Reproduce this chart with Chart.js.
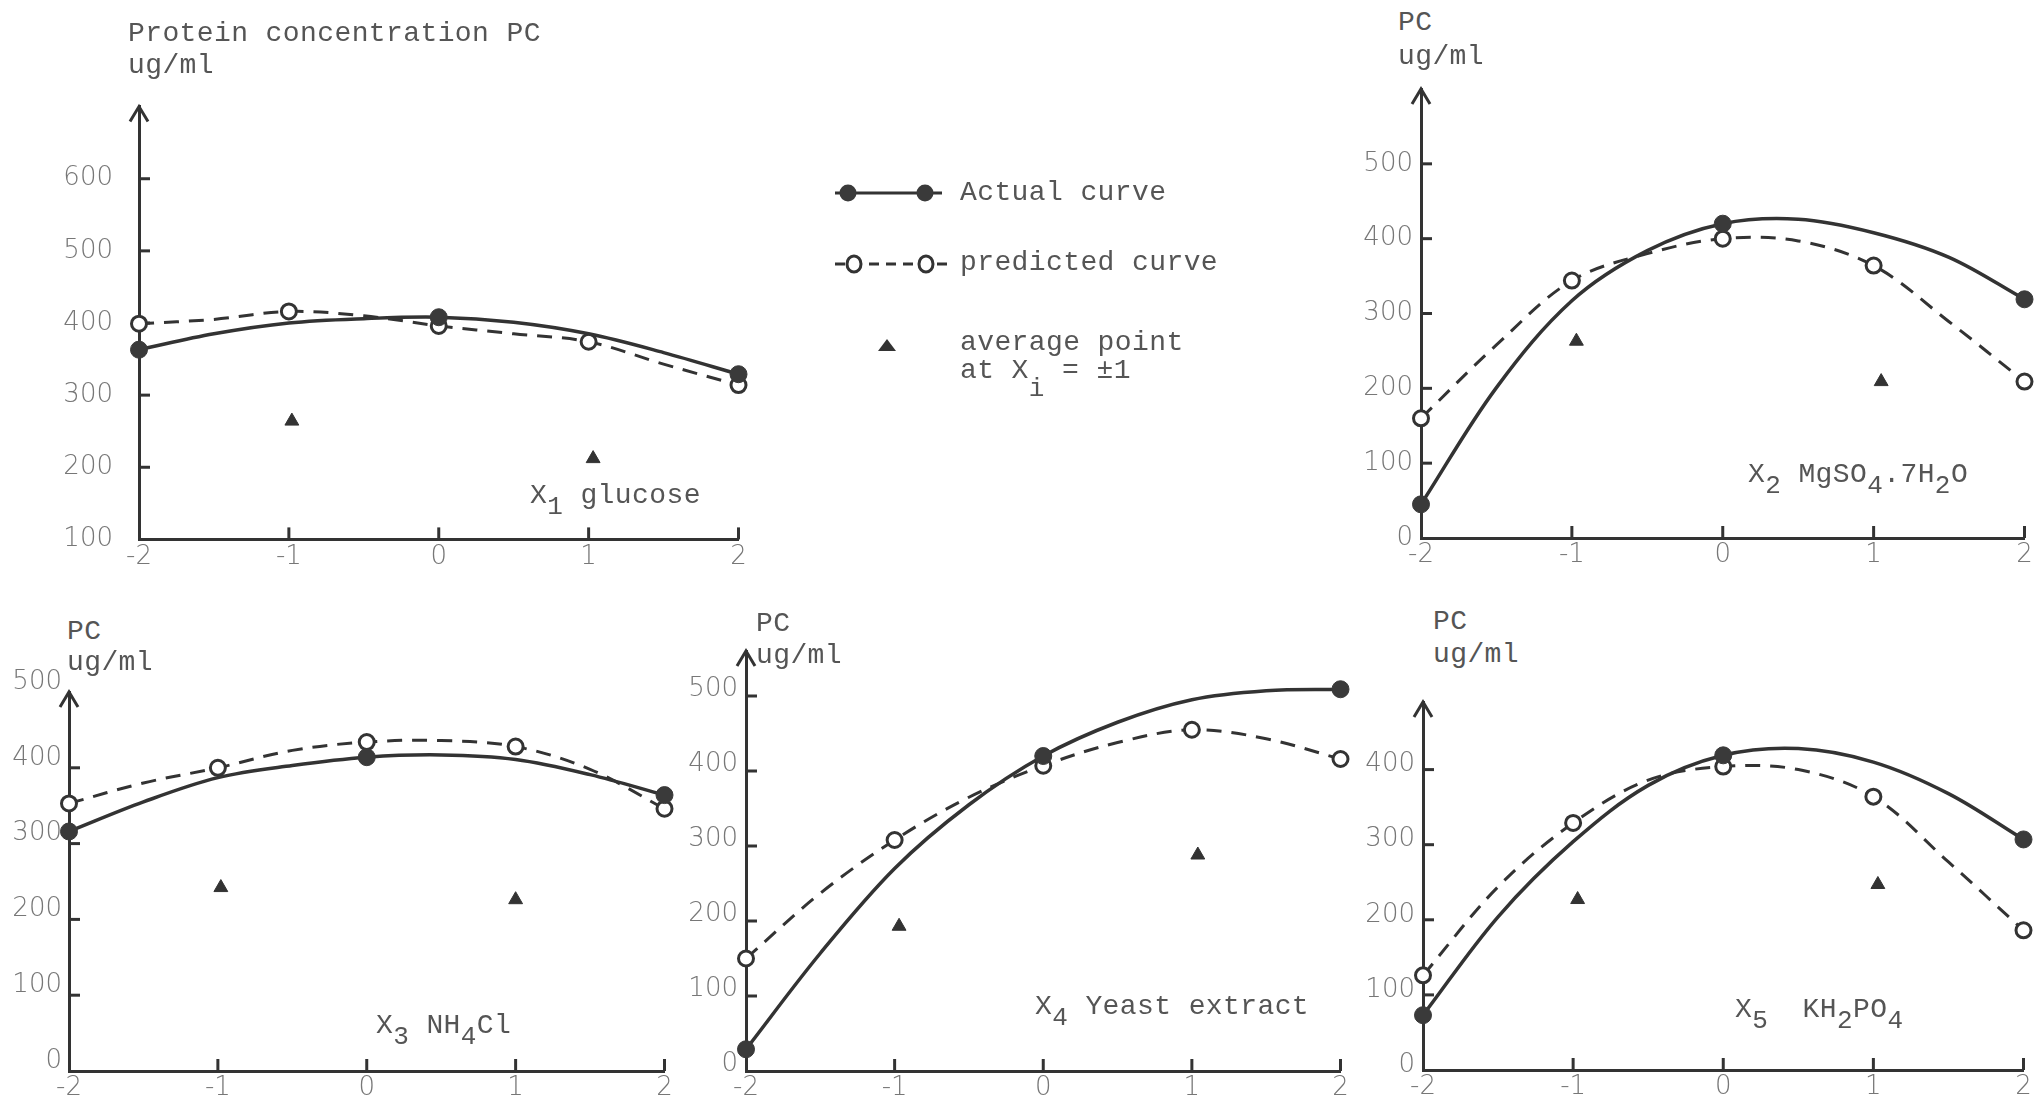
<!DOCTYPE html>
<html>
<head>
<meta charset="utf-8">
<script src="https://cdn.jsdelivr.net/npm/chart.js@4.4.1/dist/chart.umd.min.js"></script>
<style>
html,body{margin:0;padding:0;background:#fff;}
#wrap{position:relative;width:2036px;height:1099px;overflow:hidden;background:#fff;}
#wrap canvas{position:absolute;z-index:2;}
.t{position:absolute;font-family:'Liberation Mono','Courier New',monospace;font-size:28px;line-height:30px;color:#555;letter-spacing:0.4px;white-space:pre;z-index:5;}
.t sub{font-size:26px;vertical-align:-0.42em;line-height:0;}
#leg{position:absolute;left:0;top:0;z-index:4;}
</style>
</head>
<body>
<div id="wrap">
  <svg id="leg" width="1100" height="420" viewBox="0 0 1100 420">
    <line x1="835" y1="193" x2="942" y2="193" stroke="#333" stroke-width="3"/>
    <circle cx="848" cy="193" r="8.5" fill="#3a3a3a"/>
    <circle cx="925" cy="193" r="8.5" fill="#3a3a3a"/>
    <line x1="835" y1="264" x2="952" y2="264" stroke="#333" stroke-width="3" stroke-dasharray="10 7"/>
    <ellipse cx="854" cy="264" rx="7" ry="8" fill="#fff" stroke="#333" stroke-width="3"/>
    <ellipse cx="926" cy="264" rx="7" ry="8" fill="#fff" stroke="#333" stroke-width="3"/>
    <polygon points="878,351 896,351 887,339" fill="#333"/>
  </svg>

  <div class="t" style="left:128px;top:19px;">Protein concentration PC</div>
  <div class="t" style="left:128px;top:51px;">ug/ml</div>
  <div class="t" style="left:530px;top:481px;">X<sub>1</sub> glucose</div>

  <div class="t" style="left:1398px;top:8px;">PC</div>
  <div class="t" style="left:1398px;top:42px;">ug/ml</div>
  <div class="t" style="left:1748px;top:460px;">X<sub>2</sub> MgSO<sub>4</sub>.7H<sub>2</sub>O</div>

  <div class="t" style="left:67px;top:617px;">PC</div>
  <div class="t" style="left:67px;top:648px;">ug/ml</div>
  <div class="t" style="left:376px;top:1011px;">X<sub>3</sub> NH<sub>4</sub>Cl</div>

  <div class="t" style="left:756px;top:609px;">PC</div>
  <div class="t" style="left:756px;top:641px;">ug/ml</div>
  <div class="t" style="left:1035px;top:992px;">X<sub>4</sub> Yeast extract</div>

  <div class="t" style="left:1433px;top:607px;">PC</div>
  <div class="t" style="left:1433px;top:640px;">ug/ml</div>
  <div class="t" style="left:1735px;top:995px;">X<sub>5</sub>  KH<sub>2</sub>PO<sub>4</sub></div>

  <div class="t" style="left:960px;top:178px;">Actual curve</div>
  <div class="t" style="left:960px;top:248px;">predicted curve</div>
  <div class="t" style="left:960px;top:328px;">average point</div>
  <div class="t" style="left:960px;top:356px;">at X<sub style="vertical-align:-0.7em">i</sub> = ±1</div>
</div>

<script>
// ---------- data ----------
// curves are read at every half level; markers sit on the coded levels
const xLevels = [-2, -1.5, -1, -0.5, 0, 0.5, 1, 1.5, 2];
const xTickValues = [-2, -1, 0, 1, 2];
const xTickLabels = ['-2', '-1', '0', '1', '2'];

// X1 glucose
const actualX1    = [363, 385, 400, 406, 408, 401, 385, 359, 329];
const predictedX1 = [399, 405, 416, 410, 396, 385, 374, 343, 314];
const avgPosX1 = [-0.98, 1.03];
const avgValX1 = [264, 212];
const yTicksX1 = [100, 200, 300, 400, 500, 600];

// X2 MgSO4.7H2O
const actualX2    = [45, 201, 317, 384, 420, 426, 408, 375, 319];
const predictedX2 = [160, 258, 344, 380, 400, 397, 364, 289, 209];
const avgPosX2 = [-0.97, 1.05];
const avgValX2 = [263, 209];
const yTicksX2 = [0, 100, 200, 300, 400, 500];

// X3 NH4Cl
const actualX3    = [316, 355, 387, 403, 414, 417, 411, 391, 364];
const predictedX3 = [353, 380, 400, 423, 434, 436, 428, 398, 346];
const avgPosX3 = [-0.98, 1.0];
const avgValX3 = [242, 226];
const yTicksX3 = [0, 100, 200, 300, 400, 500];

// X4 Yeast extract
const actualX4    = [29, 157, 270, 355, 420, 465, 495, 507, 509];
const predictedX4 = [150, 237, 308, 365, 407, 438, 455, 443, 416];
const avgPosX4 = [-0.97, 1.04];
const avgValX4 = [193, 288];
const yTicksX4 = [0, 100, 200, 300, 400, 500];

// X5 KH2PO4
const actualX5    = [73, 204, 304, 379, 419, 428, 410, 368, 307];
const predictedX5 = [126, 244, 329, 386, 404, 400, 364, 277, 186];
const avgPosX5 = [-0.97, 1.03];
const avgValX5 = [227, 247];
const yTicksX5 = [0, 100, 200, 300, 400];

// ---------- layout ----------
const panels = [
  {L:139,  R:739,  T:89,  B:541,  yMin:100, yMax:700, actual:actualX1, predicted:predictedX1, avgX:avgPosX1, avgY:avgValX1, yTicks:yTicksX1, pad:26, off:0},
  {L:1421, R:2025, T:89,  B:538,  yMin:0,   yMax:600, actual:actualX2, predicted:predictedX2, avgX:avgPosX2, avgY:avgValX2, yTicks:yTicksX2, pad:8,  off:0},
  {L:69,   R:665,  T:692, B:1071, yMin:0,   yMax:500, actual:actualX3, predicted:predictedX3, avgX:avgPosX3, avgY:avgValX3, yTicks:yTicksX3, pad:7,  off:-10},
  {L:746,  R:1341, T:651, B:1071, yMin:0,   yMax:560, actual:actualX4, predicted:predictedX4, avgX:avgPosX4, avgY:avgValX4, yTicks:yTicksX4, pad:8,  off:-7},
  {L:1423, R:2024, T:702, B:1070, yMin:0,   yMax:490, actual:actualX5, predicted:predictedX5, avgX:avgPosX5, avgY:avgValX5, yTicks:yTicksX5, pad:8,  off:-5}
];

const INK = '#333';
const TICKFONT = {family: "'DejaVu Sans', 'Liberation Sans', sans-serif", size: 26, weight: '200'};

const decor = {
  id: 'decor',
  beforeDatasetsDraw(chart) {
    const {ctx, chartArea: ca, scales: {x, y}} = chart;
    ctx.save();
    ctx.strokeStyle = INK;
    ctx.lineWidth = 3;
    y.ticks.forEach(t => {
      if (t.value <= y.min || t.value >= y.max) return;
      const py = y.getPixelForValue(t.value);
      ctx.beginPath(); ctx.moveTo(ca.left, py); ctx.lineTo(ca.left + 11, py); ctx.stroke();
    });
    x.ticks.forEach(t => {
      if (t.value <= x.min) return;
      const px = x.getPixelForValue(t.value);
      ctx.beginPath(); ctx.moveTo(px, ca.bottom); ctx.lineTo(px, ca.bottom - 12); ctx.stroke();
    });
    ctx.restore();
  },
  afterDraw(chart) {
    const {ctx, chartArea: ca} = chart;
    ctx.save();
    ctx.strokeStyle = INK;
    ctx.lineWidth = 3;
    ctx.beginPath();
    ctx.moveTo(ca.left - 9, ca.top + 15);
    ctx.lineTo(ca.left, ca.top);
    ctx.lineTo(ca.left + 9, ca.top + 15);
    ctx.stroke();
    ctx.restore();
  }
};

const wrap = document.getElementById('wrap');
const yW = 90, pT = 24, pR = 10, xH = 40;

panels.forEach(cfg => {
  const c = document.createElement('canvas');
  const w = cfg.R - cfg.L + yW + pR;
  const h = cfg.B - cfg.T + pT + xH;
  c.width = w; c.height = h;
  c.style.left = (cfg.L - yW) + 'px';
  c.style.top = (cfg.T - pT) + 'px';
  c.style.width = w + 'px';
  c.style.height = h + 'px';
  wrap.appendChild(c);

  new Chart(c, {
    type: 'scatter',
    data: {
      datasets: [
        {
          label: 'Actual curve',
          data: xLevels.map((x, i) => ({x: x, y: cfg.actual[i]})),
          showLine: true, borderColor: INK, borderWidth: 3.5, tension: 0.35,
          pointRadius: ctx => (ctx.raw && ctx.raw.x % 2 === 0 ? 8.5 : 0),
          pointBackgroundColor: '#3a3a3a', pointBorderColor: '#3a3a3a', pointBorderWidth: 1,
          clip: false
        },
        {
          label: 'predicted curve',
          data: xLevels.map((x, i) => ({x: x, y: cfg.predicted[i]})),
          showLine: true, borderColor: INK, borderWidth: 3, borderDash: [15, 10], tension: 0.35,
          pointRadius: ctx => (ctx.raw && Number.isInteger(ctx.raw.x) ? 7.5 : 0),
          pointBackgroundColor: '#fff', pointBorderColor: INK, pointBorderWidth: 3,
          clip: false
        },
        {
          label: 'average point at Xi = ±1',
          data: cfg.avgX.map((x, i) => ({x: x, y: cfg.avgY[i]})),
          showLine: false, pointStyle: 'triangle', pointRadius: 8,
          pointBackgroundColor: INK, pointBorderColor: INK, pointBorderWidth: 1,
          clip: false
        }
      ]
    },
    options: {
      responsive: false,
      animation: false,
      events: [],
      layout: {padding: {left: 0, top: pT, right: pR, bottom: 0}},
      plugins: {legend: {display: false}, tooltip: {enabled: false}},
      scales: {
        x: {
          type: 'linear', position: 'bottom', min: -2, max: 2,
          afterBuildTicks: s => { s.ticks = xTickValues.map(v => ({value: v})); },
          afterFit: s => { s.height = xH; },
          grid: {display: false, drawTicks: false},
          border: {display: true, color: INK, width: 3},
          ticks: {autoSkip: false, maxRotation: 0, padding: 2, color: '#777', font: TICKFONT,
                  callback: (v, i) => xTickLabels[i]}
        },
        y: {
          type: 'linear', position: 'left', min: cfg.yMin, max: cfg.yMax,
          afterBuildTicks: s => { s.ticks = cfg.yTicks.map(v => ({value: v})); },
          afterFit: s => { s.width = yW; },
          grid: {display: false, drawTicks: false},
          border: {display: true, color: INK, width: 3},
          ticks: {autoSkip: false, padding: cfg.pad, labelOffset: cfg.off, color: '#777', font: TICKFONT,
                  callback: v => String(v)}
        }
      }
    },
    plugins: [decor]
  });
});
</script>
</body>
</html>
